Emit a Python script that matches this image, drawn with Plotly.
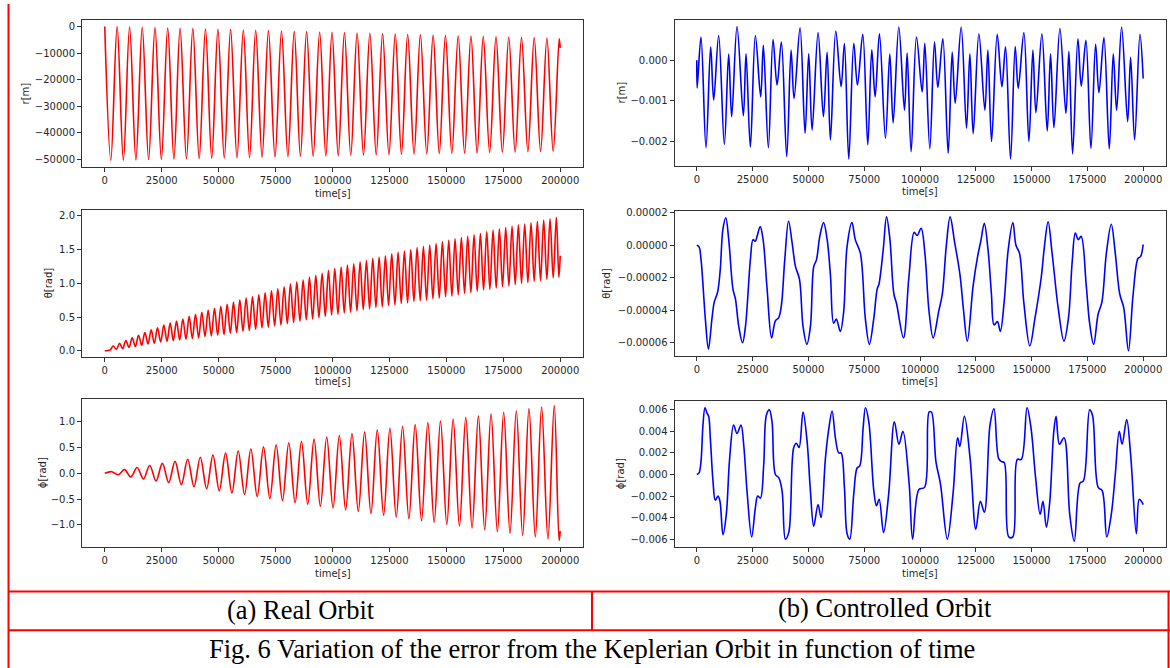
import plotly.graph_objects as go

W, H = 1170, 668

# ---------------- tick labels ----------------
x_ticks = [0, 25000, 50000, 75000, 100000, 125000, 150000, 175000, 200000]
x_tick_text = ["0", "25000", "50000", "75000", "100000", "125000", "150000", "175000", "200000"]

r_ticks = [0, -10000, -20000, -30000, -40000, -50000]
r_tick_text = ["0", "\u221210000", "\u221220000", "\u221230000", "\u221240000", "\u221250000"]
th_ticks = [0.0, 0.5, 1.0, 1.5, 2.0]
th_tick_text = ["0.0", "0.5", "1.0", "1.5", "2.0"]
ph_ticks = [-1.0, -0.5, 0.0, 0.5, 1.0]
ph_tick_text = ["\u22121.0", "\u22120.5", "0.0", "0.5", "1.0"]

rc_ticks = [-0.002, -0.001, 0.0]
rc_tick_text = ["\u22120.002", "\u22120.001", "0.000"]
thc_ticks = [-0.00006, -0.00004, -0.00002, 0.0, 0.00002]
thc_tick_text = ["\u22120.00006", "\u22120.00004", "\u22120.00002", "0.00000", "0.00002"]
phc_ticks = [-0.006, -0.004, -0.002, 0.0, 0.002, 0.004, 0.006]
phc_tick_text = ["\u22120.006", "\u22120.004", "\u22120.002", "0.000", "0.002", "0.004", "0.006"]

# ---------------- (a) Real orbit : r[m] extrema ----------------
r_peak_t = [5420, 10890, 16450, 22050, 27640, 33070, 38670, 44220, 49690, 55250, 60850, 66270,
            71870, 77600, 83200, 88620, 94360, 99780, 105240, 110800, 116400, 121990, 127560,
            133000, 138600, 144180, 149600, 155200, 160800, 166200, 171800, 177400, 183000,
            188580, 194150]
r_peak_v = [0, -130, -250, -380, -510, -630, -760, -890, -1010, -1140, -1260, -1390, -1520,
            -1640, -1770, -1900, -2020, -2150, -2280, -2400, -2530, -2660, -2780, -2910, -3040,
            -3160, -3290, -3420, -3540, -3670, -3790, -3920, -4050, -4170, -4300]
r_trough_t = [2650, 8160, 13670, 19250, 24850, 30360, 35870, 41450, 46960, 52470, 58050, 63560,
              69070, 74740, 80400, 85910, 91490, 97070, 102510, 108020, 113600, 119200, 124780,
              130280, 135800, 141390, 146890, 152400, 158000, 163500, 169000, 174600, 180200,
              185790, 191370, 196900]
r_trough_v = [-50300, -50200, -50110, -50010, -49910, -49820, -49720, -49620, -49520, -49430,
              -49330, -49230, -49140, -49040, -48940, -48850, -48750, -48650, -48550, -48460,
              -48360, -48260, -48170, -48070, -47970, -47880, -47780, -47680, -47590, -47490,
              -47390, -47290, -47200, -47100, -47000, -46900]
r_edge_t = [0, 199550, 200000]
r_edge_v = [0, -4600, -8000]

# ---------------- (a) Real orbit : theta[rad] extrema ----------------
th_peak_t = [3700, 6480, 9260, 12040, 14820, 17600, 20380, 23160, 25940, 28720, 31500, 34280,
             37060, 39840, 42620, 45400, 48180, 50960, 53740, 56520, 59300, 62080, 64860, 67640,
             70420, 73200, 75980, 78760, 81540, 84320, 87100, 89880, 92660, 95440, 98220, 101000,
             103780, 106560, 109340, 112120, 114900, 117680, 120460, 123240, 126020, 128800,
             131580, 134360, 137140, 139920, 142700, 145480, 148260, 151040, 153820, 156600,
             159380, 162160, 164940, 167720, 170500, 173280, 176060, 178840, 181620, 184400,
             187180, 189960, 192740, 195520, 198300]
th_peak_v = [0.07, 0.11, 0.15, 0.19, 0.23, 0.27, 0.31, 0.34, 0.38, 0.41,
             0.44, 0.47, 0.51, 0.54, 0.57, 0.60, 0.63, 0.66, 0.69, 0.72,
             0.75, 0.78, 0.80, 0.83, 0.86, 0.89, 0.92, 0.95, 0.99, 1.02,
             1.05, 1.09, 1.12, 1.15, 1.19, 1.22, 1.24, 1.27, 1.29, 1.32,
             1.34, 1.37, 1.39, 1.41, 1.44, 1.46, 1.48, 1.50, 1.53, 1.55,
             1.57, 1.59, 1.62, 1.64, 1.66, 1.68, 1.70, 1.72, 1.74, 1.77,
             1.79, 1.81, 1.83, 1.85, 1.87, 1.88, 1.90, 1.92, 1.94, 1.96, 1.98]
th_trough_t = [2310, 5090, 7870, 10650, 13430, 16210, 18990, 21770, 24550, 27330, 30110, 32890,
               35670, 38450, 41230, 44010, 46790, 49570, 52350, 55130, 57910, 60690, 63470,
               66250, 69030, 71810, 74590, 77370, 80150, 82930, 85710, 88490, 91270, 94050,
               96830, 99610, 102390, 105170, 107950, 110730, 113510, 116290, 119070, 121850,
               124630, 127410, 130190, 132970, 135750, 138530, 141310, 144090, 146870, 149650,
               152430, 155210, 157990, 160770, 163550, 166330, 169110, 171890, 174670, 177450,
               180230, 183010, 185790, 188570, 191350, 194130, 196910, 199400]
th_trough_v = [0.01, 0.02, 0.03, 0.05, 0.06, 0.08, 0.10, 0.11, 0.13, 0.14,
               0.15, 0.16, 0.17, 0.18, 0.19, 0.21, 0.22, 0.23, 0.24, 0.26,
               0.27, 0.29, 0.30, 0.32, 0.34, 0.35, 0.37, 0.38, 0.40, 0.42,
               0.44, 0.46, 0.47, 0.49, 0.51, 0.53, 0.54, 0.56, 0.57, 0.59,
               0.61, 0.62, 0.64, 0.65, 0.67, 0.68, 0.70, 0.71, 0.73, 0.74,
               0.75, 0.77, 0.78, 0.80, 0.81, 0.83, 0.85, 0.86, 0.88, 0.90,
               0.91, 0.93, 0.95, 0.96, 0.98, 1.00, 1.01, 1.03, 1.04, 1.06, 1.08, 1.09]
th_edge_t = [0, 200000]
th_edge_v = [0.0, 1.41]

# ---------------- (a) Real orbit : phi[rad] extrema ----------------
ph_peak_t = [3090, 8640, 14190, 19740, 25290, 30850, 36400, 41950, 47500, 53050, 58600, 64150,
             69700, 75250, 80800, 86360, 91910, 97460, 103010, 108560, 114110, 119660, 125210,
             130760, 136310, 141870, 147420, 152970, 158520, 164070, 169620, 175170, 180720,
             186270, 191820, 197380]
ph_peak_v = [0.03, 0.07, 0.11, 0.15, 0.19, 0.23, 0.27, 0.31, 0.35, 0.39,
             0.43, 0.47, 0.51, 0.55, 0.59, 0.62, 0.66, 0.70, 0.73, 0.77,
             0.80, 0.84, 0.87, 0.91, 0.94, 0.98, 1.01, 1.05, 1.08, 1.11,
             1.15, 1.18, 1.21, 1.25, 1.28, 1.31]
ph_trough_t = [5870, 11420, 16970, 22520, 28070, 33620, 39170, 44720, 50270, 55820, 61380, 66930,
               72480, 78030, 83580, 89130, 94680, 100230, 105780, 111330, 116890, 122440, 127990,
               133540, 139090, 144640, 150190, 155740, 161290, 166840, 172400, 177950, 183500,
               189050, 194600, 199500]
ph_trough_v = [-0.03, -0.07, -0.11, -0.15, -0.18, -0.22, -0.26, -0.30, -0.34, -0.38,
               -0.41, -0.45, -0.49, -0.53, -0.57, -0.60, -0.64, -0.67, -0.71, -0.74,
               -0.78, -0.81, -0.85, -0.88, -0.92, -0.95, -0.99, -1.02, -1.06, -1.09,
               -1.13, -1.16, -1.20, -1.23, -1.27, -1.30]
ph_edge_t = [0, 200000]
ph_edge_v = [0.0, -1.12]

# ---------------- (b) Controlled orbit : r[m] ----------------
rc_t = [0, 150, 1870, 4110, 6200, 7550, 9790, 12330, 14270, 15620, 18010, 20850, 22050, 23990,
        26230, 28620, 29820, 32060, 34150, 35950, 37890, 40280, 42230, 43570, 46260, 48500,
        50140, 51640, 54330, 56720, 58370, 59860, 62250, 64650, 66140, 68080, 70320, 71970,
        74360, 76600, 78390, 79890, 81830, 84520, 86470, 87960, 90500, 93040, 94240, 96030,
        98420, 100960, 102160, 104400, 106490, 107990, 110230, 112620, 114420, 115760, 118450,
        120840, 122340, 123830, 126380, 129070, 130410, 132060, 134590, 136690, 138330, 140570,
        142660, 144010, 146550, 148790, 150580, 151930, 154620, 157010, 158500, 160000, 162690,
        165380, 166720, 168370, 170760, 172250, 174350, 176590, 178680, 180170, 182420, 184810,
        186600, 188100, 190340, 193030, 194370, 196160, 198550, 200000]
rc_v = [0.0, -0.68e-3, 0.57e-3, -2.15e-3, 0.33e-3, -0.98e-3, 0.61e-3, -2.07e-3, 0.15e-3,
        -1.39e-3, 0.83e-3, -1.37e-3, 0.16e-3, -2.14e-3, 0.61e-3, -0.90e-3, 0.37e-3, -2.15e-3,
        0.51e-3, -0.61e-3, 0.45e-3, -2.37e-3, 0.25e-3, -0.94e-3, 0.80e-3, -1.80e-3, 0.16e-3,
        -1.72e-3, 0.68e-3, -1.39e-3, 0.20e-3, -1.96e-3, 0.72e-3, -0.65e-3, 0.41e-3, -2.43e-3,
        0.42e-3, -0.61e-3, 0.64e-3, -2.08e-3, 0.26e-3, -0.90e-3, 0.65e-3, -1.92e-3, 0.15e-3,
        -1.54e-3, 0.82e-3, -1.23e-3, 0.18e-3, -2.25e-3, 0.57e-3, -0.78e-3, 0.42e-3, -2.18e-3,
        0.45e-3, -0.67e-3, 0.53e-3, -2.29e-3, 0.20e-3, -1.06e-3, 0.82e-3, -1.67e-3, 0.16e-3,
        -1.81e-3, 0.65e-3, -1.23e-3, 0.25e-3, -2.00e-3, 0.64e-3, -0.65e-3, 0.33e-3, -2.43e-3,
        0.34e-3, -0.69e-3, 0.68e-3, -2.00e-3, 0.25e-3, -1.29e-3, 0.65e-3, -1.74e-3, 0.16e-3,
        -1.66e-3, 0.78e-3, -1.31e-3, 0.22e-3, -2.30e-3, 0.53e-3, -0.64e-3, 0.49e-3, -2.17e-3,
        0.39e-3, -0.80e-3, 0.56e-3, -2.18e-3, 0.16e-3, -1.23e-3, 0.82e-3, -1.51e-3, 0.07e-3,
        -1.96e-3, 0.64e-3, -0.45e-3]

# ---------------- (b) Controlled orbit : theta[rad] ----------------
thc_t = [0, 1000, 1900, 3800, 5200, 6800, 7800, 9300, 10500, 11700, 13000, 14300, 16200, 17300,
         18800, 20500, 21800, 24000, 25200, 26200, 27000, 28400, 29700, 31500, 33500, 35200,
         36700, 37900, 39400, 41100, 42700, 44200, 46000, 47600, 49300, 50900, 52400, 53600,
         55100, 56800, 58400, 59900, 61300, 62500, 64300, 65800, 67300, 69500, 71000, 73300,
         75500, 77300, 79300, 80800, 81600, 83500, 85000, 86500, 88300, 89500, 92600, 95000,
         97400, 98700, 100500, 102200, 104000, 105900, 108400, 110000, 111800, 113500, 115500,
         117900, 119500, 121200, 123800, 125800, 127300, 128800, 130500, 132000, 133200, 134700,
         136000, 137700, 139500, 141600, 143000, 144600, 146500, 149200, 151500, 154300, 155800,
         157400, 159200, 162000, 164500, 166500, 168200, 169600, 170900, 172200, 174500, 176000,
         177800, 179800, 181500, 183500, 185700, 187500, 189500, 191300, 193400, 195500, 197700,
         198800, 200000]
thc_v = [0.0, -0.1e-5, -0.9e-5, -4.5e-5, -6.4e-5, -4.5e-5, -3.5e-5, -2.9e-5, -1.5e-5, 1.0e-5,
         1.7e-5, 0.35e-5, -2.7e-5, -3.3e-5, -5.0e-5, -6.0e-5, -5.0e-5, -0.9e-5, 0.35e-5,
         0.25e-5, 0.55e-5, 1.15e-5, 0.35e-5, -2.7e-5, -5.7e-5, -4.65e-5, -4.45e-5, -3.7e-5,
         -0.9e-5, 1.5e-5, 0.15e-5, -1.3e-5, -2.1e-5, -5.0e-5, -6.1e-5, -5.0e-5, -1.3e-5,
         -0.9e-5, 0.55e-5, 1.4e-5, 0.35e-5, -1.9e-5, -4.8e-5, -4.55e-5, -5.3e-5, -4.1e-5,
         -0.1e-5, 1.4e-5, 0.35e-5, -0.5e-5, -4.5e-5, -6.1e-5, -4.5e-5, -2.7e-5, -2.4e-5,
         -0.3e-5, 1.75e-5, 0.4e-5, -3.0e-5, -3.6e-5, -5.7e-5, -2.0e-5, 0.8e-5, 0.6e-5, 1.05e-5,
         -0.5e-5, -4.0e-5, -5.7e-5, -4.05e-5, -3.0e-5, 0.0, 1.75e-5, 0.2e-5, -1.8e-5, -4.0e-5,
         -5.9e-5, -2.5e-5, -0.7e-5, 0.3e-5, 1.35e-5, -0.3e-5, -3.0e-5, -4.9e-5, -4.7e-5,
         -5.3e-5, -3.5e-5, -0.3e-5, 1.4e-5, 0.0, -0.5e-5, -3.5e-5, -6.2e-5, -4.5e-5, -2.0e-5,
         0.0, 1.45e-5, -0.5e-5, -3.95e-5, -5.9e-5, -4.5e-5, -1.0e-5, 0.75e-5, 0.35e-5, 0.55e-5,
         -2.5e-5, -4.8e-5, -6.1e-5, -4.25e-5, -3.5e-5, -0.5e-5, 1.3e-5, -0.5e-5, -3.0e-5,
         -3.85e-5, -6.5e-5, -3.0e-5, -0.8e-5, -0.7e-5, 0.05e-5]

# ---------------- (b) Controlled orbit : phi[rad] ----------------
phc_t = [0, 1000, 1870, 2760, 3660, 4560, 5300, 6050, 7240, 8290, 9490, 10380, 11720, 13210,
         14710, 16500, 18000, 19790, 20990, 22480, 24570, 26230, 27270, 28470, 29970, 31160,
         32510, 33700, 35200, 36690, 38190, 39680, 41180, 43420, 44620, 45810, 47600, 49400,
         50890, 52380, 54330, 55670, 57620, 59110, 60610, 62100, 63600, 64640, 66140, 67340,
         68530, 70320, 71820, 73010, 74510, 75560, 77050, 79300, 80500, 81700, 83670, 85970,
         88520, 90560, 92350, 95150, 96700, 99490, 102040, 104080, 105100, 107140, 109180,
         112240, 114800, 116840, 117860, 119900, 122450, 125000, 127040, 128830, 131380, 133160,
         135200, 136480, 137750, 139790, 141580, 143620, 145400, 147960, 149750, 151790, 153830,
         155100, 156630, 158160, 159950, 160970, 162500, 164540, 167090, 169130, 171680, 173210,
         176020, 177290, 179840, 181630, 183670, 185710, 187500, 189280, 190560, 192600, 194390,
         196940, 198220, 199240, 200000]
phc_v = [0.0, 0.00015, 0.0012, 0.0046, 0.0062, 0.0057, 0.0054, 0.0034, -0.0006, -0.0024,
         -0.0020, -0.0025, -0.0056, -0.0037, 0.0015, 0.0046, 0.0038, 0.0046, 0.0028, -0.0015,
         -0.0058, -0.0031, -0.0020, -0.0022, 0.0009, 0.0055, 0.0060, 0.0049, 0.0000, -0.0003,
         -0.0015, -0.0060, -0.0054, 0.0025, 0.0029, 0.0025, 0.0058, 0.0031, -0.0015, -0.0048,
         -0.0028, -0.0040, 0.0015, 0.0042, 0.0059, 0.0034, 0.0020, 0.0020, -0.0012, -0.0055,
         -0.0060, -0.0018, 0.0006, 0.0008, 0.0043, 0.0062, 0.0049, -0.0015, -0.0029, -0.0023,
         -0.0054, -0.0018, 0.0049, 0.0028, 0.0040, -0.0009, -0.0060, -0.0014, -0.0012, 0.0058,
         0.0058, 0.0012, -0.0009, -0.0060, -0.0018, 0.0034, 0.0026, 0.0054, 0.0015, -0.0051,
         -0.0025, -0.0035, 0.0046, 0.0061, 0.0015, 0.0012, 0.0011, -0.0058, -0.0058, 0.0014,
         0.0014, 0.0062, 0.0043, -0.0003, -0.0037, -0.0025, -0.0049, -0.0025, 0.0040, 0.0054,
         0.0028, 0.0034, -0.0037, -0.0062, -0.0008, -0.0006, 0.0060, 0.0055, -0.0012, -0.0015,
         -0.0058, -0.0037, 0.0000, 0.0040, 0.0028, 0.0051, 0.0018, -0.0055, -0.0023, -0.0025,
         -0.0028]


def merged(*groups):
    """Combine (times, values) groups into one time-ordered series."""
    pts = []
    for t, v in groups:
        pts.extend(zip(t, v))
    pts.sort(key=lambda p: p[0])
    return [p[0] for p in pts], [p[1] for p in pts]


r_x, r_y = merged((r_edge_t, r_edge_v), (r_peak_t, r_peak_v), (r_trough_t, r_trough_v))
th_x, th_y = merged((th_edge_t, th_edge_v), (th_peak_t, th_peak_v), (th_trough_t, th_trough_v))
ph_x, ph_y = merged((ph_edge_t, ph_edge_v), (ph_peak_t, ph_peak_v), (ph_trough_t, ph_trough_v))

RED = "#ff0000"
BLUE = "#0000ff"
TXT = "#262626"
AX = "#333333"


def px_x(a, b):
    return [a / W, b / W]


def px_y(top, bot):
    return [1 - bot / H, 1 - top / H]


panels = [
    # (x, y, color, xdom, ydom, yrange, yticks, yticktext)
    (r_x, r_y, RED, (82, 583), (16, 164), [-52815, 2515], r_ticks, r_tick_text),
    (rc_t, rc_v, BLUE, (674.5, 1165.5), (15.7, 163.3), [-0.00261, 0.00100], rc_ticks, rc_tick_text),
    (th_x, th_y, RED, (82, 583), (207.5, 355), [-0.092, 2.085], th_ticks, th_tick_text),
    (thc_t, thc_v, BLUE, (674.5, 1165.5), (208.3, 354.3), [-0.0000683, 0.0000211], thc_ticks, thc_tick_text),
    (ph_x, ph_y, RED, (82, 583), (397.7, 546.7), [-1.435, 1.43], ph_ticks, ph_tick_text),
    (phc_t, phc_v, BLUE, (674.5, 1165.5), (399.3, 546), [-0.00671, 0.00683], phc_ticks, phc_tick_text),
]

fig = go.Figure()
layout = dict(
    width=W, height=H, margin=dict(l=0, r=0, t=0, b=0),
    paper_bgcolor="white", plot_bgcolor="white", showlegend=False,
    font=dict(family="DejaVu Sans", size=10, color=TXT),
)

axis_common = dict(
    showgrid=False, zeroline=False, showline=True, mirror=True, linecolor=AX, linewidth=1,
    ticks="outside", ticklen=4, tickwidth=1, tickcolor=AX,
    tickfont=dict(family="DejaVu Sans", size=10, color=TXT), fixedrange=True,
)

for i, (xs, ys, col, xd, yd, yr, yt, ytt) in enumerate(panels, start=1):
    sfx = "" if i == 1 else str(i)
    fig.add_trace(go.Scatter(
        x=xs, y=ys, mode="lines",
        line=dict(color=col, width=1.6, shape="spline", smoothing=1.0),
        xaxis="x" + sfx, yaxis="y" + sfx, hoverinfo="skip",
    ))
    layout["xaxis" + sfx] = dict(
        axis_common, domain=px_x(*xd), range=[-10000, 210000], anchor="y" + sfx,
        tickmode="array", tickvals=x_ticks, ticktext=x_tick_text,
    )
    layout["yaxis" + sfx] = dict(
        axis_common, domain=px_y(*yd), range=yr, anchor="x" + sfx,
        tickmode="array", tickvals=yt, ticktext=ytt,
    )

fig.update_layout(**layout)

# ---------------- axis titles ----------------
ann = []
ylabels = [
    ("r[m]", 25, 90), ("r[m]", 621.5, 89.5),
    ("\u03b8[rad]", 48, 281), ("\u03b8[rad]", 606.5, 281),
    ("\u03d5[rad]", 42, 472), ("\u03d5[rad]", 620.5, 472.5),
]
for text, x, y in ylabels:
    ann.append(dict(text=text, x=x / W, y=1 - y / H, xref="paper", yref="paper",
                    showarrow=False, textangle=-90, xanchor="center", yanchor="middle",
                    font=dict(family="DejaVu Sans", size=10, color=TXT)))
xlabels = [(332.5, 190.5), (920, 189), (332.5, 380), (920, 380), (332.5, 572.5), (920, 572.5)]
for x, y in xlabels:
    ann.append(dict(text="time[s]", x=x / W, y=1 - y / H, xref="paper", yref="paper",
                    showarrow=False, xanchor="center", yanchor="middle",
                    font=dict(family="DejaVu Sans", size=10, color=TXT)))

# ---------------- captions ----------------
SERIF = "Liberation Serif, Times New Roman, serif"
ann.append(dict(text="(a) Real Orbit", x=301 / W, y=1 - 609.5 / H, xref="paper", yref="paper",
                showarrow=False, xanchor="center", yanchor="middle",
                font=dict(family=SERIF, size=26.5, color="black")))
ann.append(dict(text="(b) Controlled Orbit", x=885 / W, y=1 - 607.5 / H, xref="paper", yref="paper",
                showarrow=False, xanchor="center", yanchor="middle",
                font=dict(family=SERIF, size=26.5, color="black")))
ann.append(dict(text="Fig. 6 Variation of the error from the Keplerian Orbit in function of time",
                x=591.5 / W, y=1 - 649 / H, xref="paper", yref="paper",
                showarrow=False, xanchor="center", yanchor="middle",
                font=dict(family=SERIF, size=26.5, color="black")))

# ---------------- red table rules ----------------
def hline(y, x0, x1):
    return dict(type="line", xref="paper", yref="paper", x0=x0 / W, x1=x1 / W,
                y0=1 - y / H, y1=1 - y / H, line=dict(color=RED, width=2))


def vline(x, y0, y1):
    return dict(type="line", xref="paper", yref="paper", x0=x / W, x1=x / W,
                y0=1 - y0 / H, y1=1 - y1 / H, line=dict(color=RED, width=2))


shapes = [
    vline(8.5, 0, 668),
    hline(591, 8, 1170),
    hline(630, 8, 1170),
    vline(592, 591, 630),
    vline(1168.5, 591, 668),
]

fig.update_layout(annotations=ann, shapes=shapes)
fig.write_html("out.html")
